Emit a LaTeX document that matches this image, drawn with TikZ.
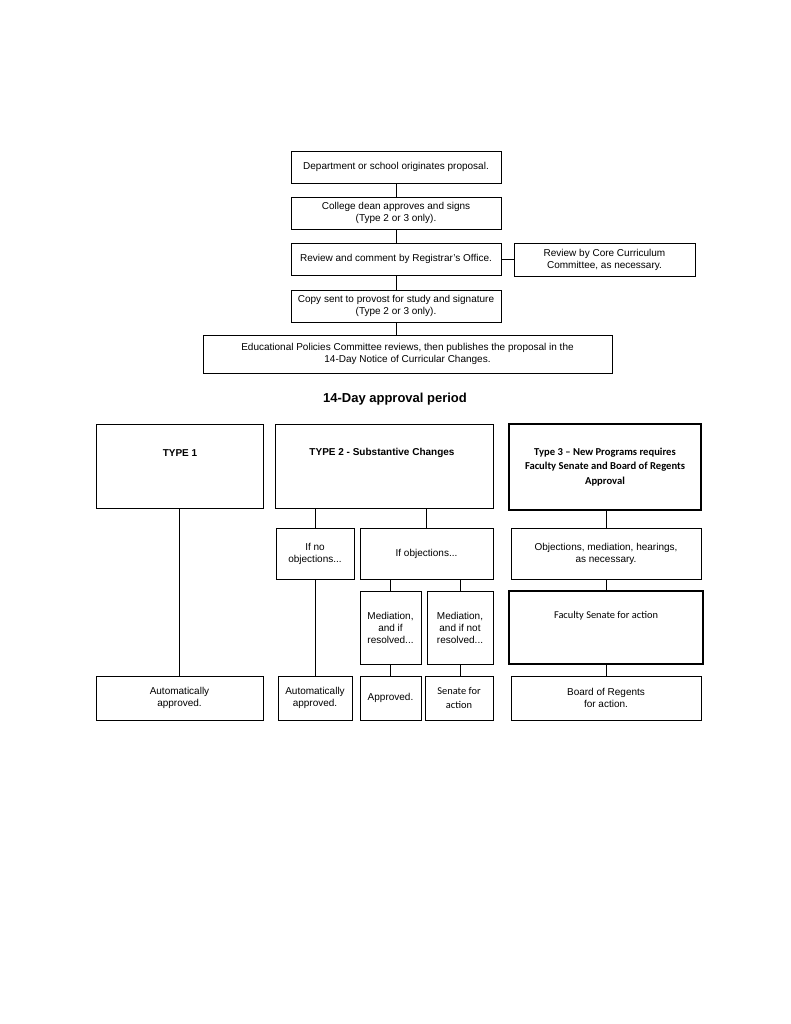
\documentclass[tikz,border=0pt]{standalone}
\usepackage{fontspec}
\setmainfont{Liberation Sans}
\newfontfamily\carlito{Carlito}
\begin{document}
\begin{tikzpicture}[x=1pt,y=-1pt,
 box/.style={draw, line width=0.8pt, inner sep=0pt, align=center, font=\fontsize{10}{12}\selectfont},
 thickbox/.style={box, line width=1.1pt},
 txt/.style={inner sep=0pt, align=center, font=\fontsize{10}{12}\selectfont},
 link/.style={line width=0.8pt}]
\useasboundingbox[fill=white] (0,0) rectangle (791,1024);
% top chain
\node[box, minimum width=210pt, minimum height=32pt] (b1) at (396,167) {Department or school originates proposal.};
\node[box, minimum width=210pt, minimum height=32pt] (b2) at (396,213) {College dean approves and signs\\(Type 2 or 3 only).};
\node[box, minimum width=210pt, minimum height=32pt] (b3) at (396,259) {Review and comment by Registrar's Office.};
\node[box, minimum width=181pt, minimum height=33pt] (side) at (604.5,259.5) {Review by Core Curriculum\\Committee, as necessary.};
\node[box, minimum width=210pt, minimum height=32pt] (b4) at (396,306) {Copy sent to provost for study and signature\\(Type 2 or 3 only).};
\node[box, minimum width=409pt, minimum height=38pt] (b5) at (407.5,354) {Educational Policies Committee reviews, then publishes the proposal in the\\14-Day Notice of Curricular Changes.};
\draw[link] (b1) -- (b2);
\draw[link] (b2) -- (b3);
\draw[link] (b3) -- (b4);
\draw[link] (b3.east) -- (b3.east -| side.west);
\draw[link] (b4.south) -- (b4.south |- b5.north);
\node[inner sep=0pt, anchor=base, font=\fontsize{13}{15}\selectfont\bfseries] (title) at (395,402) {14-Day approval period};
% type boxes
\node[box, minimum width=167pt, minimum height=84pt] (t1) at (179.5,466) {};
\node[txt, font=\fontsize{10}{12}\selectfont\bfseries] (t1txt) at (180,453) {TYPE 1};
\node[box, minimum width=218pt, minimum height=84pt] (t2) at (384,466) {};
\node[txt, font=\fontsize{10}{12}\selectfont\bfseries] (t2txt) at (382,453) {TYPE 2 - Substantive Changes};
\node[thickbox, minimum width=192pt, minimum height=86pt, font=\carlito\bfseries\fontsize{10.6}{14.5}\selectfont] (t3) at (605,467) {Type 3 – New Programs requires\\Faculty Senate and Board of Regents\\Approval};
% second row
\node[box, minimum width=78pt, minimum height=51pt] (noobj) at (315,553.5) {If no\\objections...};
\node[box, minimum width=133pt, minimum height=51pt] (obj) at (426.5,553.5) {If objections...};
\node[box, minimum width=190pt, minimum height=51pt] (objm) at (606,553.5) {Objections, mediation, hearings,\\as necessary.};
% third row
\node[box, minimum width=61pt, minimum height=73pt] (medA) at (390.5,627.5) {Mediation,\\and if\\resolved...};
\node[box, minimum width=66pt, minimum height=73pt] (medB) at (460,627.5) {Mediation,\\and if not\\resolved...};
\node[thickbox, minimum width=194pt, minimum height=73pt] (fs) at (606,627.5) {};
\node[txt, font=\carlito\fontsize{10.4}{12}\selectfont] (fstxt) at (606,616) {Faculty Senate for action};
% bottom row
\node[box, minimum width=167pt, minimum height=44pt] (auto1) at (179.5,698) {Automatically\\approved.};
\node[box, minimum width=74pt, minimum height=44pt] (auto2) at (315,698) {Automatically\\approved.};
\node[box, minimum width=61pt, minimum height=44pt] (appr) at (390.5,698) {Approved.};
\node[box, minimum width=68pt, minimum height=44pt, font=\carlito\fontsize{10.4}{14}\selectfont] (sen) at (459,698) {Senate for\\action};
\node[box, minimum width=190pt, minimum height=44pt] (bor) at (606,698) {Board of Regents\\for action.};
% connectors
\draw[link] (t1.south) -- (auto1.north);
\draw[link] (noobj.north |- t2.south) -- (noobj.north);
\draw[link] (noobj.south) -- (auto2.north);
\draw[link] (obj.north |- t2.south) -- (obj.north);
\draw[link] (medA.north |- obj.south) -- (medA.north);
\draw[link] (medB.north |- obj.south) -- (medB.north);
\draw[link] (medA.south) -- (appr.north);
\draw[link] (medB.south) -- (medB.south |- sen.north);
\draw[link] (objm.north |- t3.south) -- (objm.north);
\draw[link] (objm.south) -- (fs.north);
\draw[link] (fs.south) -- (bor.north);
\end{tikzpicture}
\end{document}
